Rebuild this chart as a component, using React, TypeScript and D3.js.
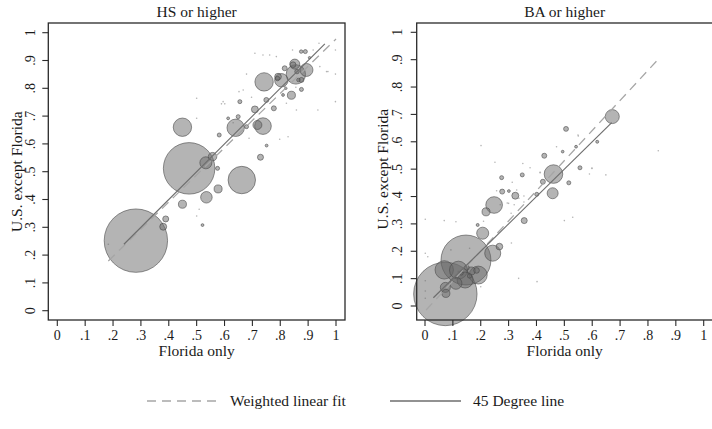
import React from "react";
import * as d3 from "d3";

// ---------- data ----------
const tickValues = [0, 0.1, 0.2, 0.3, 0.4, 0.5, 0.6, 0.7, 0.8, 0.9, 1];
const tickLabels = ["0", ".1", ".2", ".3", ".4", ".5", ".6", ".7", ".8", ".9", "1"];

// HS or higher: Florida share (x), U.S. except Florida share (y), weight
const hsX = [0.282, 0.473, 0.662, 0.449, 0.742, 0.64, 0.738, 0.718, 0.533, 0.557, 0.535, 0.577, 0.449, 0.389, 0.38, 0.729, 0.575, 0.804, 0.792, 0.856, 0.894, 0.852, 0.846, 0.89, 0.875, 0.84, 0.75, 0.709, 0.777, 0.816, 0.876, 0.655, 0.613, 0.649, 0.581, 0.679, 0.751, 0.876, 0.81, 0.521, 0.79, 0.86, 0.905, 0.82, 0.865,
  0.709, 0.738, 0.786, 0.844, 0.918, 0.939, 0.998, 0.971, 0.998, 0.942, 0.679, 0.652, 0.667, 0.697, 0.589, 0.601, 0.5, 0.5, 0.631, 0.688, 0.798, 0.828, 0.935, 0.998, 0.816, 0.856, 0.822, 0.509, 0.5, 0.183, 0.762, 0.966, 0.858, 0.595];
const hsY = [0.252, 0.512, 0.47, 0.66, 0.823, 0.658, 0.664, 0.668, 0.532, 0.554, 0.408, 0.438, 0.383, 0.33, 0.302, 0.552, 0.512, 0.829, 0.842, 0.85, 0.866, 0.887, 0.885, 0.932, 0.932, 0.775, 0.758, 0.724, 0.728, 0.872, 0.83, 0.752, 0.692, 0.698, 0.632, 0.662, 0.594, 0.796, 0.776, 0.308, 0.835, 0.86, 0.91, 0.8, 0.83,
  0.926, 0.92, 0.914, 0.938, 0.938, 0.962, 0.938, 0.86, 0.851, 0.878, 0.851, 0.788, 0.794, 0.768, 0.744, 0.744, 0.764, 0.692, 0.676, 0.62, 0.617, 0.626, 0.722, 0.752, 0.806, 0.804, 0.746, 0.365, 0.341, 0.239, 0.92, 0.86, 0.722, 0.752];
const hsW = [100, 66, 18.7, 8.4, 8.4, 7.5, 6.9, 2.0, 3.6, 1.8, 3.3, 1.6, 1.6, 0.9, 1.2, 0.9, 0.4, 4.5, 1.1, 9.4, 4.2, 2.5, 0.8, 0.4, 0.3, 1.6, 0.62, 1.2, 0.62, 0.62, 0.62, 0.4, 0.2, 0.4, 0.4, 0.4, 0.2, 0.4, 0.2, 0.2, 0.5, 0.5, 0.15, 0.15, 0.3,
  0.06, 0.06, 0.06, 0.06, 0.06, 0.06, 0.06, 0.06, 0.06, 0.06, 0.06, 0.06, 0.06, 0.06, 0.06, 0.06, 0.06, 0.06, 0.06, 0.06, 0.06, 0.06, 0.06, 0.06, 0.06, 0.06, 0.06, 0.06, 0.06, 0.06, 0.06, 0.06, 0.06, 0.06];

// BA or higher
const baX = [0.073, 0.147, 0.069, 0.12, 0.144, 0.191, 0.166, 0.111, 0.243, 0.267, 0.207, 0.248, 0.219, 0.461, 0.458, 0.672, 0.506, 0.428, 0.324, 0.349, 0.275, 0.277, 0.516, 0.423, 0.401, 0.356, 0.075, 0.073, 0.618, 0.556, 0.494, 0.542, 0.301, 0.189, 0.185, 0.15, 0.16, 0.13,
  0.201, 0.251, 0.351, 0.377, 0.413, 0.313, 0.329, 0.257, 0.355, 0.337, 0.355, 0.295, 0.472, 0.549, 0.55, 0.837, 0.5, 0.53, 0.336, 0.402, 0.001, 0.069, 0.111, 0.001, 0.001, 0.001, 0.001, 0.309, 0.093, 0.16, 0.01, 0.12, 0.2, 0.31, 0.21, 0.27, 0.3, 0.32, 0.599, 0.59, 0.649];
const baY = [0.044, 0.168, 0.132, 0.131, 0.095, 0.113, 0.128, 0.083, 0.193, 0.217, 0.266, 0.369, 0.344, 0.482, 0.412, 0.692, 0.647, 0.549, 0.403, 0.479, 0.469, 0.418, 0.45, 0.454, 0.408, 0.312, 0.046, 0.068, 0.6, 0.505, 0.564, 0.582, 0.42, 0.296, 0.13, 0.14, 0.11, 0.12,
  0.586, 0.525, 0.521, 0.505, 0.488, 0.452, 0.424, 0.421, 0.402, 0.394, 0.38, 0.376, 0.582, 0.625, 0.621, 0.567, 0.312, 0.324, 0.101, 0.089, 0.317, 0.312, 0.308, 0.193, 0.092, 0.055, 0.028, 0.339, 0.205, 0.211, 0.18, 0.125, 0.07, 0.23, 0.31, 0.37, 0.375, 0.37, 0.503, 0.482, 0.479];
const baW = [100, 62, 8.4, 8.0, 6.4, 8.0, 1.6, 3.6, 6.4, 1.1, 3.6, 6.9, 1.6, 8.6, 3.0, 4.9, 0.6, 0.62, 1.2, 0.4, 0.4, 0.62, 0.4, 0.62, 0.4, 0.9, 1.6, 2.5, 0.22, 0.4, 0.18, 0.2, 0.2, 0.22, 0.8, 0.6, 0.5, 0.4,
  0.06, 0.06, 0.06, 0.06, 0.1, 0.06, 0.06, 0.06, 0.06, 0.06, 0.06, 0.06, 0.06, 0.06, 0.06, 0.06, 0.06, 0.06, 0.06, 0.06, 0.06, 0.06, 0.06, 0.06, 0.06, 0.06, 0.06, 0.06, 0.06, 0.06, 0.06, 0.1, 0.06, 0.06, 0.06, 0.06, 0.06, 0.06, 0.1, 0.06, 0.06];

// weighted linear fit: [intercept, slope, xmin, xmax]; 45 degree line: [xmin, xmax]
const hsFit = [0.0002, 0.977, 0.183, 1.0];
const hs45 = [0.239, 0.96];
const baFit = [-0.019, 1.1, 0.004, 0.834];
const ba45 = [0.03, 0.67];

const panelTitles = ["HS or higher", "BA or higher"];
const xTitle = "Florida only";
const yTitle = "U.S. except Florida";
const legendLabels = ["Weighted linear fit", "45 Degree line"];

// ---------- layout ----------
const W = 712;
const H = 429;
const FONT = "'Liberation Serif', 'Times New Roman', serif";

const rScale = d3.scaleSqrt().domain([0, 100]).range([0, 31.7]);

type PanelCfg = {
  title: string;
  xs: number[]; ys: number[]; ws: number[];
  fit: number[]; l45: number[];
  xRange: [number, number]; yRange: [number, number];
  frame: [number, number, number, number];
  tickLabelX: number; yTitleX: number;
};

const panels: PanelCfg[] = [
  {
    title: panelTitles[0], xs: hsX, ys: hsY, ws: hsW, fit: hsFit, l45: hs45,
    xRange: [57.3, 336], yRange: [310.7, 32.7],
    frame: [48.3, 23, 345, 320], tickLabelX: 35, yTitleX: 21.5,
  },
  {
    title: panelTitles[1], xs: baX, ys: baY, ws: baW, fit: baFit, l45: ba45,
    xRange: [425, 703.7], yRange: [306, 32.3],
    frame: [416.7, 23, 712.7, 320], tickLabelX: 401.5, yTitleX: 388,
  },
];

function Panel({ p }: { p: PanelCfg }) {
  const x = d3.scaleLinear().domain([0, 1]).range(p.xRange);
  const y = d3.scaleLinear().domain([0, 1]).range(p.yRange);
  const [fx0, fy0, fx1, fy1] = p.frame;
  const idx = d3.range(p.xs.length).sort((a, b) => p.ws[b] - p.ws[a]);
  const line = d3.line<[number, number]>().x((d) => x(d[0])).y((d) => y(d[1]));
  const fitPts: [number, number][] = [
    [p.fit[2], p.fit[0] + p.fit[1] * p.fit[2]],
    [p.fit[3], p.fit[0] + p.fit[1] * p.fit[3]],
  ];
  const l45Pts: [number, number][] = [
    [p.l45[0], p.l45[0]],
    [p.l45[1], p.l45[1]],
  ];
  const yMid = (p.yRange[0] + p.yRange[1]) / 2;
  return (
    <g>
      <text x={(fx0 + fx1) / 2} y={17} textAnchor="middle" fontSize={15.5} fill="#1a1a1a">
        {p.title}
      </text>
      {idx.map((i) => (
        <circle
          key={i}
          cx={x(p.xs[i])}
          cy={y(p.ys[i])}
          r={Math.max(0.6, rScale(p.ws[i]))}
          fill="#6a6a6a"
          fillOpacity={0.5}
          stroke="#4a4a4a"
          strokeOpacity={p.ws[i] < 0.15 ? 0 : 0.75}
          strokeWidth={0.8}
        />
      ))}
      <path d={line(fitPts) || ""} fill="none" stroke="#a6a6a6" strokeWidth={1.3} strokeDasharray="9 6" />
      <path d={line(l45Pts) || ""} fill="none" stroke="#6e6e6e" strokeWidth={1.2} />
      <rect x={fx0} y={fy0} width={fx1 - fx0} height={fy1 - fy0} fill="none" stroke="#2a2a2a" strokeWidth={1.3} />
      {tickValues.map((t, i) => (
        <g key={"xt" + i}>
          <line x1={x(t)} x2={x(t)} y1={fy1} y2={fy1 + 6} stroke="#2a2a2a" strokeWidth={1.1} />
          <text x={x(t)} y={339.5} textAnchor="middle" fontSize={14} fill="#1a1a1a">
            {tickLabels[i]}
          </text>
        </g>
      ))}
      {tickValues.map((t, i) => (
        <g key={"yt" + i}>
          <line x1={fx0 - 6} x2={fx0} y1={y(t)} y2={y(t)} stroke="#2a2a2a" strokeWidth={1.1} />
          <text
            transform={`translate(${p.tickLabelX},${y(t)}) rotate(-90)`}
            textAnchor="middle"
            fontSize={14}
            fill="#1a1a1a"
          >
            {tickLabels[i]}
          </text>
        </g>
      ))}
      <text x={(fx0 + fx1) / 2} y={356} textAnchor="middle" fontSize={15.5} fill="#1a1a1a">
        {xTitle}
      </text>
      <text
        transform={`translate(${p.yTitleX},${yMid}) rotate(-90)`}
        textAnchor="middle"
        fontSize={15.5}
        fill="#1a1a1a"
      >
        {yTitle}
      </text>
    </g>
  );
}

export default function App() {
  return (
    <svg
      width={W}
      height={H}
      viewBox={`0 0 ${W} ${H}`}
      style={{ position: "absolute", left: 0, top: 0, background: "#fff" }}
      fontFamily={FONT}
    >
      <rect x={0} y={0} width={W} height={H} fill="#fff" />
      {panels.map((p, i) => (
        <Panel key={i} p={p} />
      ))}
      <line x1={147} x2={218} y1={401} y2={401} stroke="#a6a6a6" strokeWidth={1.3} strokeDasharray="9 6" />
      <text x={230} y={406} fontSize={15.5} fill="#1a1a1a">
        {legendLabels[0]}
      </text>
      <line x1={390} x2={461} y1={401} y2={401} stroke="#6e6e6e" strokeWidth={1.3} />
      <text x={473} y={406} fontSize={15.5} fill="#1a1a1a">
        {legendLabels[1]}
      </text>
    </svg>
  );
}
